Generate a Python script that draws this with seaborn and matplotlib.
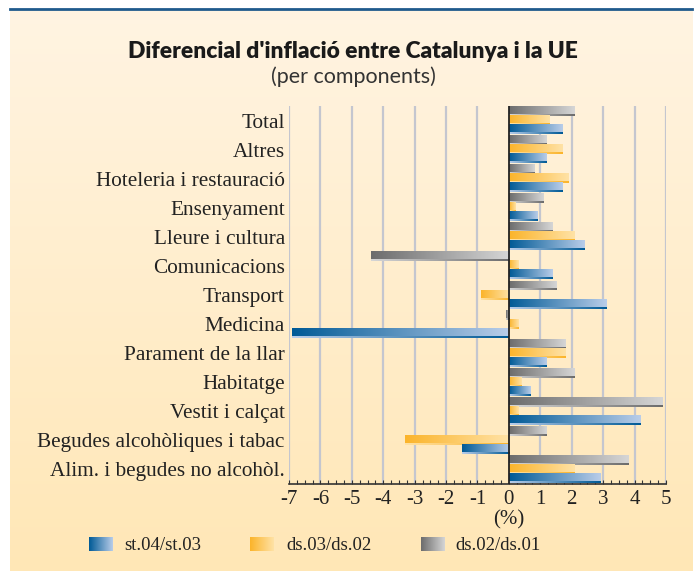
import numpy as np
import pandas as pd
import matplotlib
matplotlib.use("Agg")
import matplotlib.pyplot as plt
import seaborn as sns
from matplotlib.colors import LinearSegmentedColormap
from matplotlib.lines import Line2D

# Datos
componentes = ['Total', 'Altres', 'Hoteleria i restauració', 'Ensenyament',
               'Lleure i cultura', 'Comunicacions', 'Transport', 'Medicina',
               'Parament de la llar', 'Habitatge', 'Vestit i calçat',
               'Begudes alcohòliques i tabac', 'Alim. i begudes no alcohòl.']
st04_st03 = [1.7, 1.2, 1.7, 0.9, 2.4, 1.4, 3.1, -6.9, 1.2, 0.7, 4.2, -1.5, 2.9]
ds03_ds02 = [1.3, 1.7, 1.9, 0.2, 2.1, 0.3, -0.9, 0.3, 1.8, 0.4, 0.3, -3.3, 2.1]
ds02_ds01 = [2.1, 1.2, 0.8, 1.1, 1.4, -4.4, 1.5, -0.1, 1.8, 2.1, 4.9, 1.2, 3.8]
series = ['ds.02/ds.01', 'ds.03/ds.02', 'st.04/st.03']
ticks_x = [-7, -6, -5, -4, -3, -2, -1, 0, 1, 2, 3, 4, 5]

# Degradados (oscuro -> claro)
grad_colores = {
    'st.04/st.03': ('#005a96', '#b9cde9'),
    'ds.03/ds.02': ('#fbb42a', '#ffe2a6'),
    'ds.02/ds.01': ('#6c6c6c', '#d6d6d6'),
}

df = pd.DataFrame({
    'componente': componentes * 3,
    'valor': ds02_ds01 + ds03_ds02 + st04_st03,
    'serie': [series[0]] * 13 + [series[1]] * 13 + [series[2]] * 13,
})

plt.rcParams['axes.unicode_minus'] = False
W, H = 697, 571
fig = plt.figure(figsize=(W / 100, H / 100), dpi=100)
fig.patch.set_facecolor('white')

# Fondo crema con degradado
bg = fig.add_axes([10 / W, 0, 682 / W, (H - 10) / H])
bg.imshow(np.linspace(0, 1, 256).reshape(-1, 1), aspect='auto',
          cmap=LinearSegmentedColormap.from_list('bg', ['#fff4e2', '#ffe7b6']),
          extent=[0, 1, 0, 1])
bg.set_axis_off()
fig.add_artist(Line2D([10 / W, 692 / W], [1 - 9 / H, 1 - 9 / H],
                      color='#1f5a8c', lw=2, transform=fig.transFigure))

ax = fig.add_axes([289 / W, 87 / H, 377 / W, 378 / H])
ax.set_facecolor('none')
palette = {s: grad_colores[s][0] for s in series}
sns.barplot(data=df, y='componente', x='valor', hue='serie', hue_order=series,
            order=componentes, orient='h', palette=palette, width=0.93,
            ax=ax, legend=False, zorder=3)

gradiente = np.linspace(0, 1, 256).reshape(1, -1)
for cont, s in zip(ax.containers, series):
    c_osc, c_cla = grad_colores[s]
    cmap = LinearSegmentedColormap.from_list(s, [c_osc, c_cla])
    for bar in cont:
        x0, x1 = sorted([bar.get_x(), bar.get_x() + bar.get_width()])
        y0, y1 = sorted([bar.get_y(), bar.get_y() + bar.get_height()])
        h = y1 - y0
        ysplit = y0 + 0.78 * h
        ax.imshow(gradiente, extent=[x0, x1, ysplit, y0], aspect='auto',
                  cmap=cmap, zorder=3, interpolation='bilinear')
        ax.imshow(gradiente[:, ::-1], extent=[x0, x1, y1, ysplit], aspect='auto',
                  cmap=cmap, zorder=3, interpolation='bilinear')
        bar.set_visible(False)

ax.set_xlim(-7, 5)
ax.set_ylim(12.5, -0.5)
ax.set_xticks(ticks_x)
ax.set_xticklabels([str(t) for t in ticks_x], family='Liberation Serif',
                   fontsize=15, color='#222222')
ax.set_xticks(np.arange(-7, 5.01, 0.25), minor=True)
ax.tick_params(axis='x', which='both', direction='in', length=3, width=0.8,
               pad=4, color='#333333')
ax.tick_params(axis='y', length=0, pad=3)
for lab in ax.get_yticklabels():
    lab.set_family('Liberation Serif')
    lab.set_fontsize(15.3)
    lab.set_color('#222222')
ax.set_xlabel('')
ax.set_ylabel('')
for t in ticks_x:
    if t != 0:
        ax.axvline(t, color='#c4c6cf', lw=1.6, zorder=1)
ax.axvline(0, color='#222222', lw=1.3, zorder=4)
for sp in ['top', 'right', 'left']:
    ax.spines[sp].set_visible(False)
ax.spines['bottom'].set_color('#333333')
ax.spines['bottom'].set_linewidth(1.2)

# Titulos
fig.text(353 / W, 1 - 52 / H, "Diferencial d'inflació entre Catalunya i la UE",
         ha='center', va='center', family='Lato', weight='heavy', fontsize=16.4,
         color='#1a1a1a')
fig.text(353 / W, 1 - 77 / H, '(per components)', ha='center', va='center',
         family='Lato', fontsize=15.5, color='#333333')
fig.text(509 / W, 1 - 520 / H, '(%)', ha='center', va='center',
         family='Liberation Serif', fontsize=15, color='#222222')

# Leyenda manual con degradados
leyenda = [('st.04/st.03', 89, 124), ('ds.03/ds.02', 250, 286), ('ds.02/ds.01', 421, 455)]
for s, xq, xt in leyenda:
    c_osc, c_cla = grad_colores[s]
    lax = fig.add_axes([xq / W, 1 - 551 / H, 24 / W, 14 / H])
    lax.imshow(gradiente, aspect='auto', interpolation='bilinear',
               cmap=LinearSegmentedColormap.from_list(s, [c_osc, c_cla]))
    lax.set_axis_off()
    fig.text(xt / W, 1 - 545 / H, s, ha='left', va='center',
             family='Liberation Serif', fontsize=13.5, color='#222222')

fig.savefig('out.png', dpi=100)
